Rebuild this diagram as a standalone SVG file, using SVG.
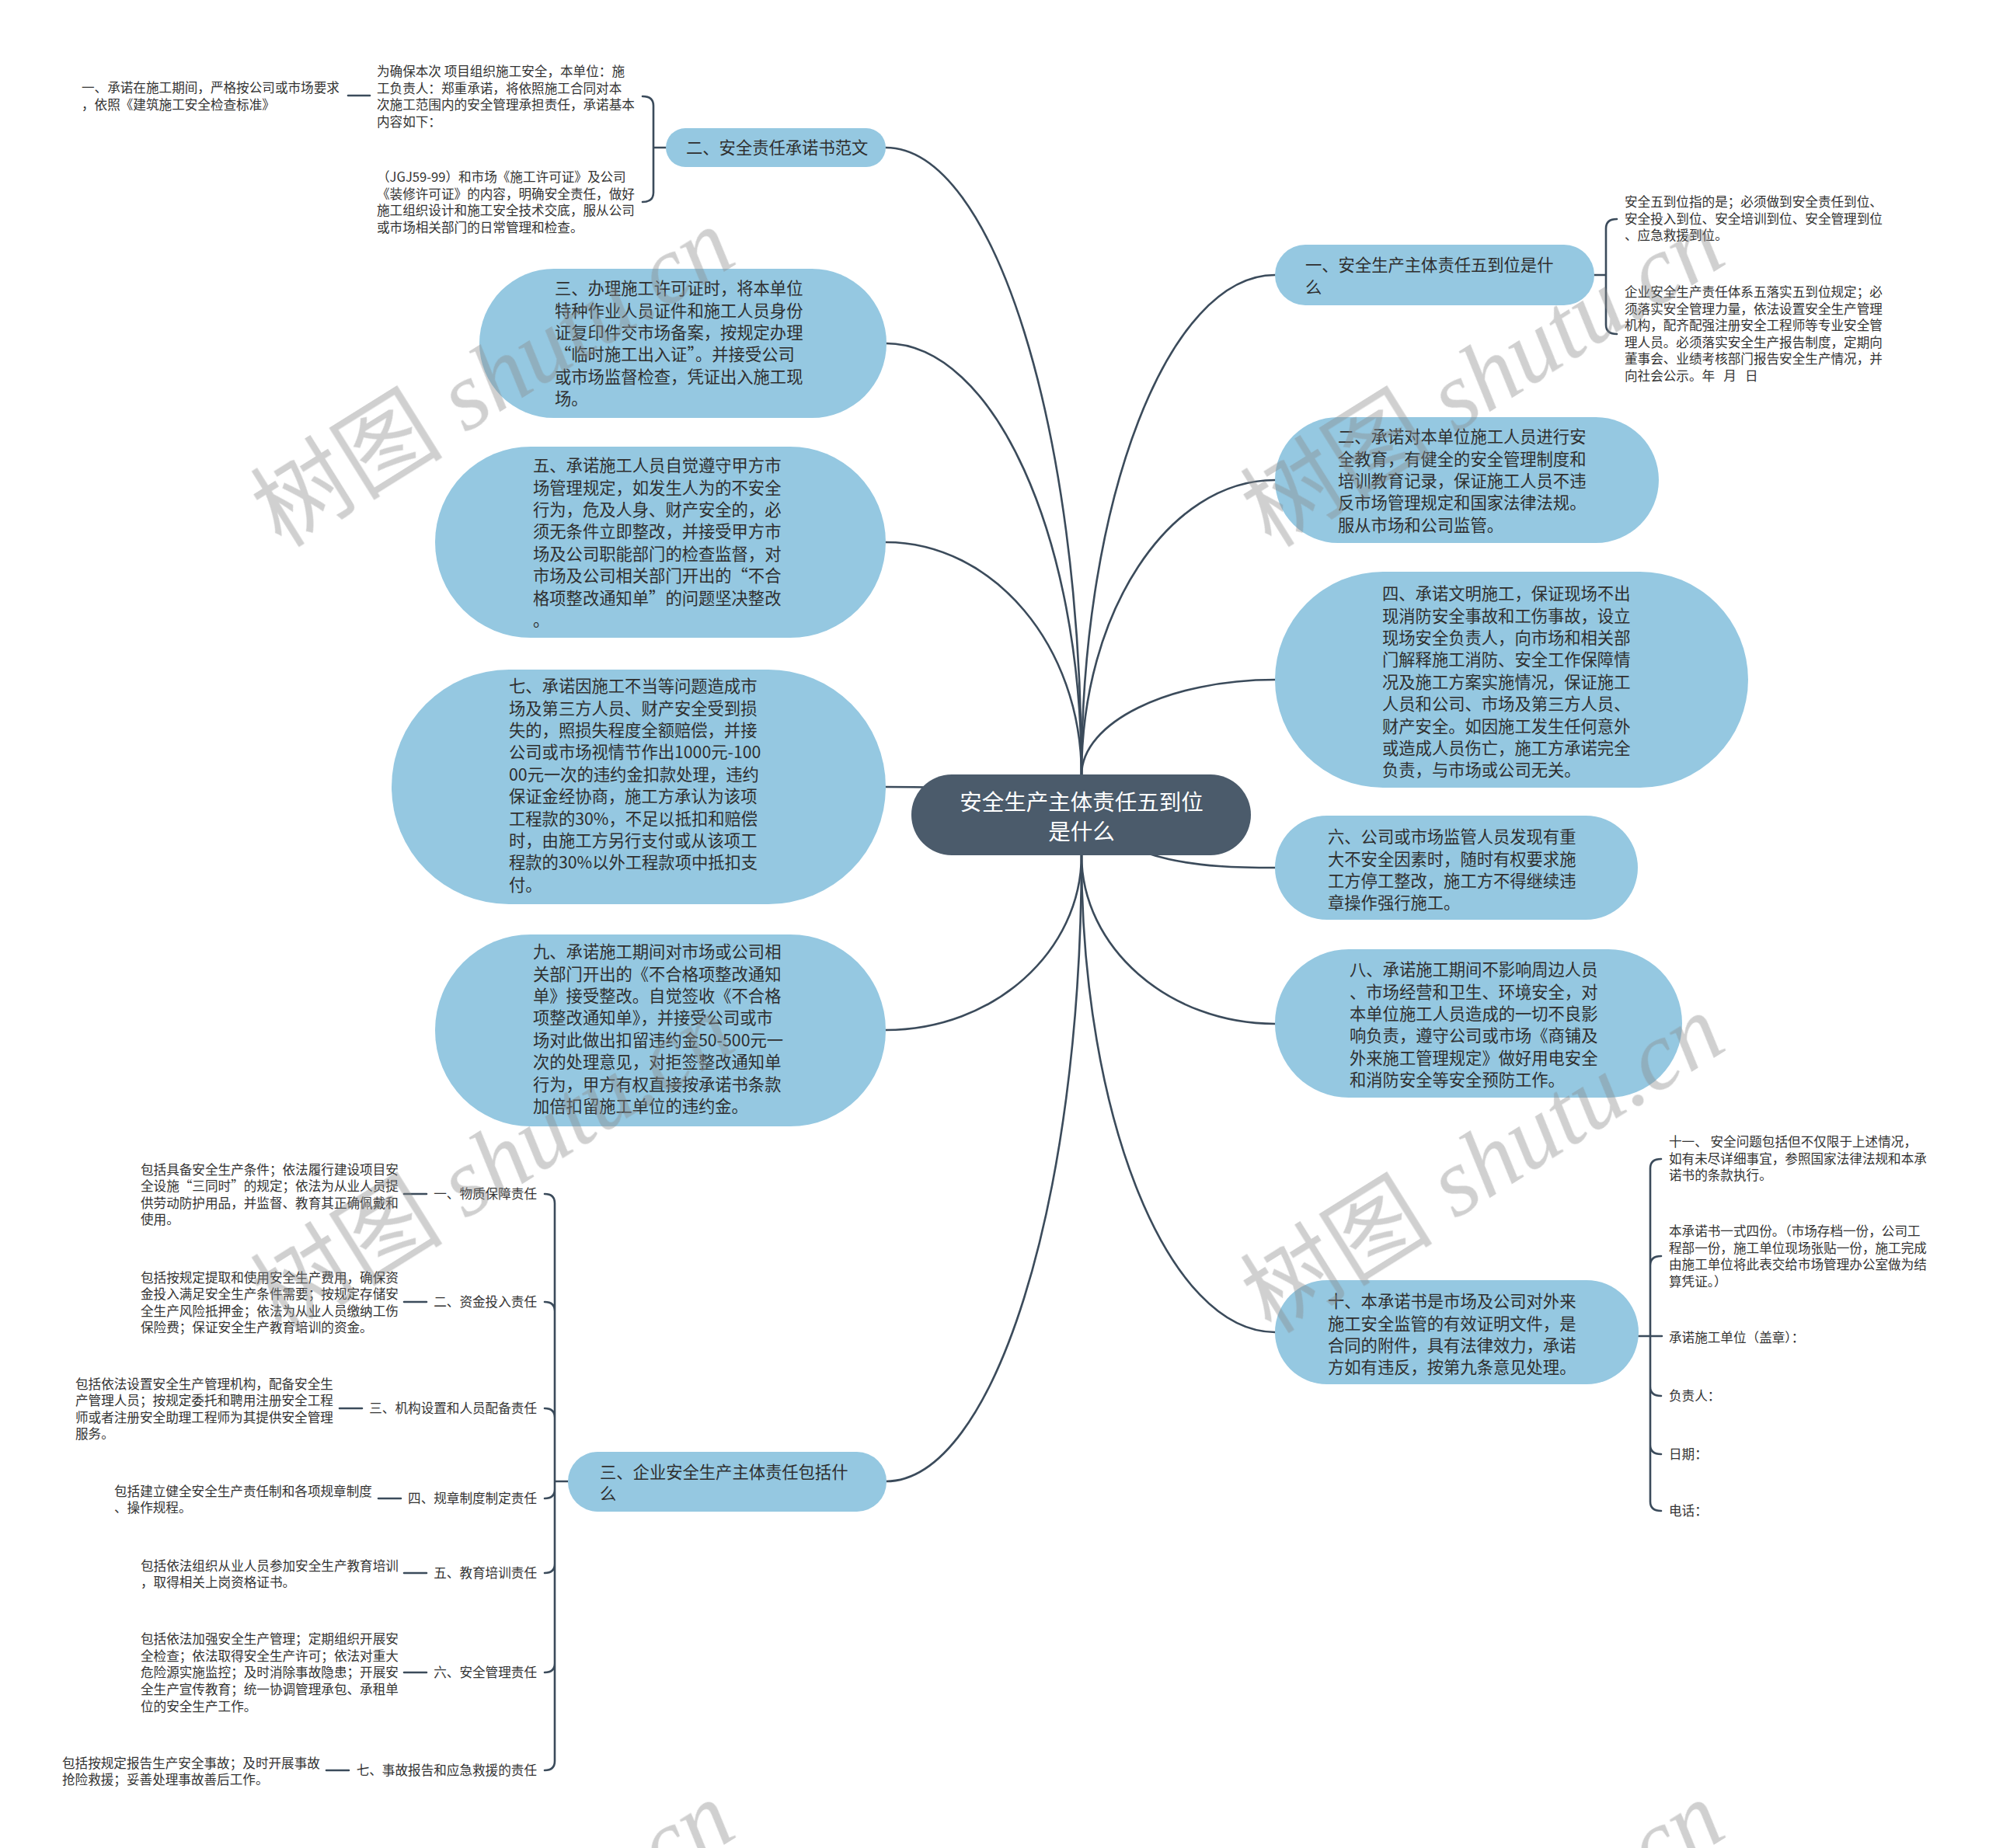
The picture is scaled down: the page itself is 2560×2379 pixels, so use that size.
<svg xmlns="http://www.w3.org/2000/svg" width="2560" height="2379" viewBox="0 0 2560 2379">
<style>
.bg{fill:#ffffff}
.n{fill:#95C8E1}
.root{fill:#4B5B6B}
.e{fill:none;stroke:#3B4B5B;stroke-width:2.6;stroke-linecap:round}
.b{font-family:"Noto Sans CJK SC","Noto Sans",sans-serif;font-size:21.3px;fill:#2f2f2f}
.s{font-family:"Noto Sans CJK SC","Noto Sans",sans-serif;font-size:16.6px;fill:#333333}
.r{font-family:"Noto Sans CJK SC","Noto Sans",sans-serif;font-size:28.5px;fill:#ffffff;text-anchor:middle}
.end{text-anchor:end}
.wm{font-size:124px;fill:#8a8a8a;opacity:0.4}
.wmc{font-family:"Noto Sans CJK SC",sans-serif}
.wml{font-family:"Liberation Serif",serif;font-style:italic}
</style>
<rect class="bg" x="0" y="0" width="2560" height="2379"/>

<g id="connectors">
  <path class="e" d="M1392 998 C1392 552,1279 190,1140 190"/>
  <path class="e" d="M1392 998 C1392 691,1279 442,1140 442"/>
  <path class="e" d="M1392 998 C1392 832,1279 698,1140 698"/>
  <path class="e" d="M1392 1050 C1300 1013,1220 1013,1140 1013"/>
  <path class="e" d="M1392 1100 C1392 1225,1279 1326,1140 1326"/>
  <path class="e" d="M1392 1100 C1392 1546,1279 1907,1140 1907"/>
  <path class="e" d="M1392 998 C1392 642,1504 354,1641 354"/>
  <path class="e" d="M1392 998 C1392 788,1504 618,1641 618"/>
  <path class="e" d="M1392 998 C1392 930,1504 875,1641 875"/>
  <path class="e" d="M1392 1050 C1460 1110,1540 1117,1641 1117"/>
  <path class="e" d="M1392 1100 C1392 1220,1504 1318,1641 1318"/>
  <path class="e" d="M1392 1100 C1392 1440,1504 1715,1641 1715"/>
  <path class="e" d="M857 190 H841 M841 190 V136 Q841 124 827 124 M841 190 V248 Q841 260 827 260"/>
  <path class="e" d="M448 123 H476"/>
  <path class="e" d="M2052 354 H2067 M2067 354 V294 Q2067 282 2081 282 M2067 354 V418 Q2067 430 2081 430"/>
  <path class="e" d="M2109 1720 H2139 M2124 1720 V1504 Q2124 1492 2138 1492 M2124 1720 V1629 Q2124 1617 2138 1617 M2124 1720 V1785 Q2124 1797 2138 1797 M2124 1720 V1860 Q2124 1872 2138 1872 M2124 1720 V1933 Q2124 1945 2138 1945"/>
  <path class="e" d="M731 1907 H714 M714 1907 V1549 Q714 1537 701 1537 M714 1907 V1688 Q714 1676 701 1676 M714 1907 V1825 Q714 1813 701 1813 M714 1907 V1917 Q714 1929 701 1929 M714 1907 V2013 Q714 2025 701 2025 M714 1907 V2141 Q714 2153 701 2153 M714 1907 V2267 Q714 2279 701 2279"/>
  <path class="e" d="M520 1537 H549 M520 1676 H549 M437 1813 H466 M487 1929 H516 M520 2025 H549 M520 2153 H549 M420 2279 H449"/>
</g>

<g id="root">
  <rect class="root" x="1173" y="997" width="437" height="104" rx="52"/>
  <text class="r" x="1392" y="1043">安全生产主体责任五到位</text>
  <text class="r" x="1392" y="1081">是什么</text>
</g>

<g id="n-a">
  <rect class="n" x="857" y="165" width="283" height="50" rx="25"/>
  <text class="b" x="883" y="198">二、安全责任承诺书范文</text>
</g>
<g id="n-a1">
  <text class="s"><tspan x="485" y="98.3">为确保本次 项目组织施工安全，本单位：施</tspan><tspan x="485" y="119.8">工负责人：郑重承诺，将依照施工合同对本</tspan><tspan x="485" y="141.3">次施工范围内的安全管理承担责任，承诺基本</tspan><tspan x="485" y="162.8">内容如下：</tspan></text>
</g>
<g id="n-a0">
  <text class="s"><tspan x="105" y="119.3">一、承诺在施工期间，严格按公司或市场要求</tspan><tspan x="105" y="141.3">，依照《建筑施工安全检查标准》</tspan></text>
</g>
<g id="n-a2">
  <text class="s"><tspan x="485" y="234.3">（JGJ59-99）和市场《施工许可证》及公司</tspan><tspan x="485" y="255.8">《装修许可证》的内容，明确安全责任，做好</tspan><tspan x="485" y="277.3">施工组织设计和施工安全技术交底，服从公司</tspan><tspan x="485" y="298.8">或市场相关部门的日常管理和检查。</tspan></text>
</g>

<g id="n-b">
  <rect class="n" x="617" y="346" width="524" height="192" rx="96"/>
  <text class="b"><tspan x="714" y="379.1">三、办理施工许可证时，将本单位</tspan><tspan x="714" y="407.5">特种作业人员证件和施工人员身份</tspan><tspan x="714" y="435.9">证复印件交市场备案，按规定办理</tspan><tspan x="714" y="464.3">“临时施工出入证”。并接受公司</tspan><tspan x="714" y="492.7">或市场监督检查，凭证出入施工现</tspan><tspan x="714" y="521.1">场。</tspan></text>
</g>

<g id="n-c">
  <rect class="n" x="560" y="575" width="580" height="246" rx="123"/>
  <text class="b"><tspan x="686" y="607.1">五、承诺施工人员自觉遵守甲方市</tspan><tspan x="686" y="635.5">场管理规定，如发生人为的不安全</tspan><tspan x="686" y="663.9">行为，危及人身、财产安全的，必</tspan><tspan x="686" y="692.3">须无条件立即整改，并接受甲方市</tspan><tspan x="686" y="720.7">场及公司职能部门的检查监督，对</tspan><tspan x="686" y="749.1">市场及公司相关部门开出的“不合</tspan><tspan x="686" y="777.5">格项整改通知单”的问题坚决整改</tspan><tspan x="686" y="805.9">。</tspan></text>
</g>

<g id="n-d">
  <rect class="n" x="504" y="862" width="636" height="302" rx="151"/>
  <text class="b"><tspan x="655" y="891.1">七、承诺因施工不当等问题造成市</tspan><tspan x="655" y="919.5">场及第三方人员、财产安全受到损</tspan><tspan x="655" y="947.9">失的，照损失程度全额赔偿，并接</tspan><tspan x="655" y="976.3">公司或市场视情节作出1000元-100</tspan><tspan x="655" y="1004.7">00元一次的违约金扣款处理，违约</tspan><tspan x="655" y="1033.1">保证金经协商，施工方承认为该项</tspan><tspan x="655" y="1061.5">工程款的30%，不足以抵扣和赔偿</tspan><tspan x="655" y="1089.9">时，由施工方另行支付或从该项工</tspan><tspan x="655" y="1118.3">程款的30%以外工程款项中抵扣支</tspan><tspan x="655" y="1146.7">付。</tspan></text>
</g>

<g id="n-e">
  <rect class="n" x="560" y="1203" width="580" height="247" rx="123"/>
  <text class="b"><tspan x="686" y="1233.1">九、承诺施工期间对市场或公司相</tspan><tspan x="686" y="1261.5">关部门开出的《不合格项整改通知</tspan><tspan x="686" y="1289.9">单》接受整改。自觉签收《不合格</tspan><tspan x="686" y="1318.3">项整改通知单》，并接受公司或市</tspan><tspan x="686" y="1346.7">场对此做出扣留违约金50-500元一</tspan><tspan x="686" y="1375.1">次的处理意见，对拒签整改通知单</tspan><tspan x="686" y="1403.5">行为，甲方有权直接按承诺书条款</tspan><tspan x="686" y="1431.9">加倍扣留施工单位的违约金。</tspan></text>
</g>

<g id="n-f">
  <rect class="n" x="731" y="1869" width="410" height="77" rx="38"/>
  <text class="b"><tspan x="772" y="1903.1">三、企业安全生产主体责任包括什</tspan><tspan x="772" y="1931.3">么</tspan></text>
</g>
<g id="n-f1">
  <text class="s end" x="691" y="1543.3">一、物质保障责任</text>
  <text class="s"><tspan x="181" y="1511.5">包括具备安全生产条件；依法履行建设项目安</tspan><tspan x="181" y="1533.1">全设施“三同时”的规定；依法为从业人员提</tspan><tspan x="181" y="1554.7">供劳动防护用品，并监督、教育其正确佩戴和</tspan><tspan x="181" y="1576.3">使用。</tspan></text>
</g>
<g id="n-f2">
  <text class="s end" x="691" y="1682.3">二、资金投入责任</text>
  <text class="s"><tspan x="181" y="1650.5">包括按规定提取和使用安全生产费用，确保资</tspan><tspan x="181" y="1672.1">金投入满足安全生产条件需要；按规定存储安</tspan><tspan x="181" y="1693.7">全生产风险抵押金；依法为从业人员缴纳工伤</tspan><tspan x="181" y="1715.3">保险费；保证安全生产教育培训的资金。</tspan></text>
</g>
<g id="n-f3">
  <text class="s end" x="691" y="1819.3">三、机构设置和人员配备责任</text>
  <text class="s"><tspan x="97" y="1787.5">包括依法设置安全生产管理机构，配备安全生</tspan><tspan x="97" y="1809.1">产管理人员；按规定委托和聘用注册安全工程</tspan><tspan x="97" y="1830.7">师或者注册安全助理工程师为其提供安全管理</tspan><tspan x="97" y="1852.3">服务。</tspan></text>
</g>
<g id="n-f4">
  <text class="s end" x="691" y="1935.3">四、规章制度制定责任</text>
  <text class="s"><tspan x="147" y="1925.5">包括建立健全安全生产责任制和各项规章制度</tspan><tspan x="147" y="1947.1">、操作规程。</tspan></text>
</g>
<g id="n-f5">
  <text class="s end" x="691" y="2031.3">五、教育培训责任</text>
  <text class="s"><tspan x="181" y="2021.5">包括依法组织从业人员参加安全生产教育培训</tspan><tspan x="181" y="2043.1">，取得相关上岗资格证书。</tspan></text>
</g>
<g id="n-f6">
  <text class="s end" x="691" y="2159.3">六、安全管理责任</text>
  <text class="s"><tspan x="181" y="2116.1">包括依法加强安全生产管理；定期组织开展安</tspan><tspan x="181" y="2137.7">全检查；依法取得安全生产许可；依法对重大</tspan><tspan x="181" y="2159.3">危险源实施监控；及时消除事故隐患；开展安</tspan><tspan x="181" y="2180.9">全生产宣传教育；统一协调管理承包、承租单</tspan><tspan x="181" y="2202.5">位的安全生产工作。</tspan></text>
</g>
<g id="n-f7">
  <text class="s end" x="691" y="2285.3">七、事故报告和应急救援的责任</text>
  <text class="s"><tspan x="80" y="2275.5">包括按规定报告生产安全事故；及时开展事故</tspan><tspan x="80" y="2297.1">抢险救援；妥善处理事故善后工作。</tspan></text>
</g>

<g id="n-g">
  <rect class="n" x="1641" y="315" width="411" height="78" rx="39"/>
  <text class="b"><tspan x="1680" y="349.1">一、安全生产主体责任五到位是什</tspan><tspan x="1680" y="377.5">么</tspan></text>
</g>
<g id="n-g1">
  <text class="s"><tspan x="2091" y="266.3">安全五到位指的是；必须做到安全责任到位、</tspan><tspan x="2091" y="287.8">安全投入到位、安全培训到位、安全管理到位</tspan><tspan x="2091" y="309.3">、应急救援到位。</tspan></text>
</g>
<g id="n-g2">
  <text class="s"><tspan x="2091" y="382.3">企业安全生产责任体系五落实五到位规定；必</tspan><tspan x="2091" y="403.8">须落实安全管理力量，依法设置安全生产管理</tspan><tspan x="2091" y="425.3">机构，配齐配强注册安全工程师等专业安全管</tspan><tspan x="2091" y="446.8">理人员。必须落实安全生产报告制度，定期向</tspan><tspan x="2091" y="468.3">董事会、业绩考核部门报告安全生产情况，并</tspan><tspan x="2091" y="489.8">向社会公示。年&#160;&#160;&#160;月&#160;&#160;&#160;日</tspan></text>
</g>

<g id="n-h">
  <rect class="n" x="1641" y="537" width="494" height="162" rx="81"/>
  <text class="b"><tspan x="1722" y="570.1">二、承诺对本单位施工人员进行安</tspan><tspan x="1722" y="598.5">全教育，有健全的安全管理制度和</tspan><tspan x="1722" y="626.9">培训教育记录，保证施工人员不违</tspan><tspan x="1722" y="655.3">反市场管理规定和国家法律法规。</tspan><tspan x="1722" y="683.7">服从市场和公司监管。</tspan></text>
</g>

<g id="n-i">
  <rect class="n" x="1641" y="736" width="609" height="278" rx="139"/>
  <text class="b"><tspan x="1779" y="772.1">四、承诺文明施工，保证现场不出</tspan><tspan x="1779" y="800.5">现消防安全事故和工伤事故，设立</tspan><tspan x="1779" y="828.9">现场安全负责人，向市场和相关部</tspan><tspan x="1779" y="857.3">门解释施工消防、安全工作保障情</tspan><tspan x="1779" y="885.7">况及施工方案实施情况，保证施工</tspan><tspan x="1779" y="914.1">人员和公司、市场及第三方人员、</tspan><tspan x="1779" y="942.5">财产安全。如因施工发生任何意外</tspan><tspan x="1779" y="970.9">或造成人员伤亡，施工方承诺完全</tspan><tspan x="1779" y="999.3">负责，与市场或公司无关。</tspan></text>
</g>

<g id="n-j">
  <rect class="n" x="1641" y="1050" width="467" height="134" rx="67"/>
  <text class="b"><tspan x="1709" y="1085.1">六、公司或市场监管人员发现有重</tspan><tspan x="1709" y="1113.5">大不安全因素时，随时有权要求施</tspan><tspan x="1709" y="1141.9">工方停工整改，施工方不得继续违</tspan><tspan x="1709" y="1170.3">章操作强行施工。</tspan></text>
</g>

<g id="n-k">
  <rect class="n" x="1641" y="1222" width="524" height="191" rx="95"/>
  <text class="b"><tspan x="1737" y="1256.1">八、承诺施工期间不影响周边人员</tspan><tspan x="1737" y="1284.5">、市场经营和卫生、环境安全，对</tspan><tspan x="1737" y="1312.9">本单位施工人员造成的一切不良影</tspan><tspan x="1737" y="1341.3">响负责，遵守公司或市场《商铺及</tspan><tspan x="1737" y="1369.7">外来施工管理规定》做好用电安全</tspan><tspan x="1737" y="1398.1">和消防安全等安全预防工作。</tspan></text>
</g>

<g id="n-l">
  <rect class="n" x="1641" y="1648" width="468" height="134" rx="67"/>
  <text class="b"><tspan x="1709" y="1683.1">十、本承诺书是市场及公司对外来</tspan><tspan x="1709" y="1711.5">施工安全监管的有效证明文件，是</tspan><tspan x="1709" y="1739.9">合同的附件，具有法律效力，承诺</tspan><tspan x="1709" y="1768.3">方如有违反，按第九条意见处理。</tspan></text>
</g>
<g id="n-l1">
  <text class="s"><tspan x="2148" y="1476.3">十一、 安全问题包括但不仅限于上述情况，</tspan><tspan x="2148" y="1497.8">如有未尽详细事宜，参照国家法律法规和本承</tspan><tspan x="2148" y="1519.3">诺书的条款执行。</tspan></text>
</g>
<g id="n-l2">
  <text class="s"><tspan x="2148" y="1591.3">本承诺书一式四份。（市场存档一份，公司工</tspan><tspan x="2148" y="1612.8">程部一份，施工单位现场张贴一份，施工完成</tspan><tspan x="2148" y="1634.3">由施工单位将此表交给市场管理办公室做为结</tspan><tspan x="2148" y="1655.8">算凭证。）</tspan></text>
</g>
<g id="n-l3"><text class="s" x="2148" y="1728.3">承诺施工单位（盖章）：</text></g>
<g id="n-l4"><text class="s" x="2148" y="1803.3">负责人：</text></g>
<g id="n-l5"><text class="s" x="2148" y="1878.3">日期：</text></g>
<g id="n-l6"><text class="s" x="2148" y="1951.3">电话：</text></g>

<g id="watermarks" class="wm">
  <text transform="translate(362 706) rotate(-32)"><tspan class="wmc">树图</tspan><tspan class="wml"> shutu.cn</tspan></text>
  <text transform="translate(1636 706) rotate(-32)"><tspan class="wmc">树图</tspan><tspan class="wml"> shutu.cn</tspan></text>
  <text transform="translate(362 1718) rotate(-32)"><tspan class="wmc">树图</tspan><tspan class="wml"> shutu.cn</tspan></text>
  <text transform="translate(1636 1718) rotate(-32)"><tspan class="wmc">树图</tspan><tspan class="wml"> shutu.cn</tspan></text>
  <text transform="translate(362 2731) rotate(-32)"><tspan class="wmc">树图</tspan><tspan class="wml"> shutu.cn</tspan></text>
  <text transform="translate(1636 2731) rotate(-32)"><tspan class="wmc">树图</tspan><tspan class="wml"> shutu.cn</tspan></text>
</g>
</svg>
